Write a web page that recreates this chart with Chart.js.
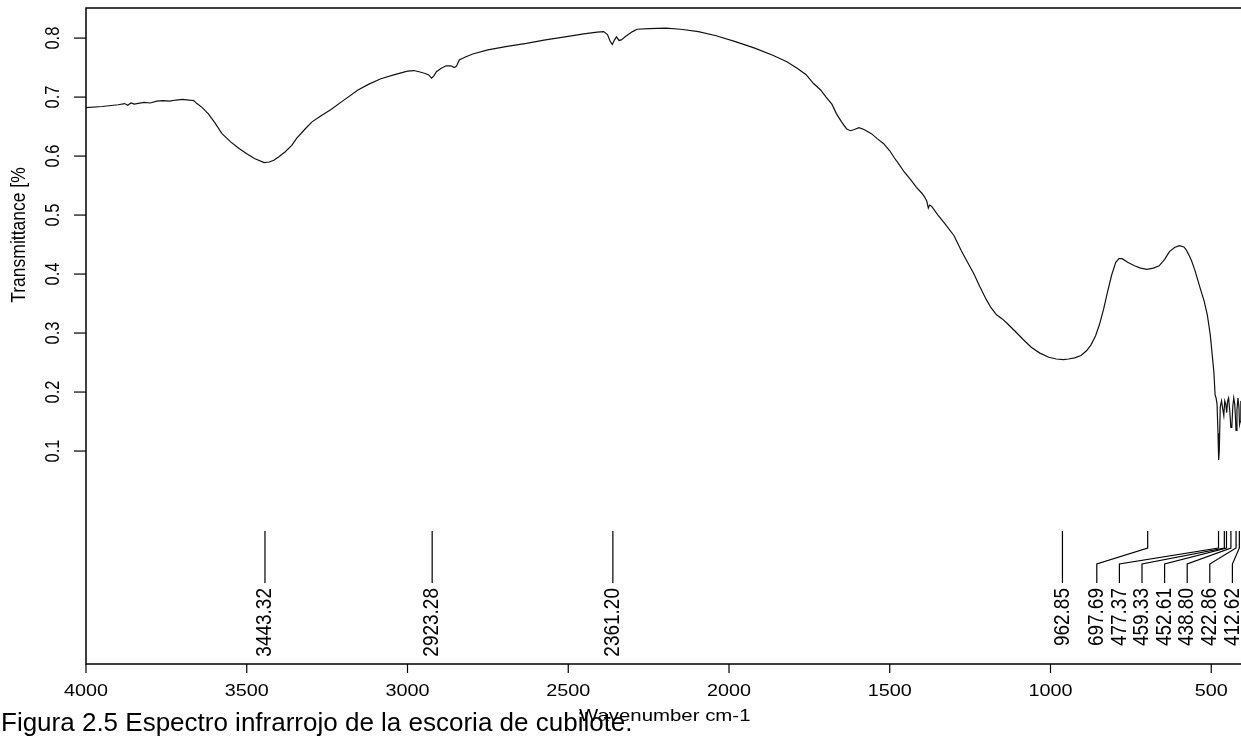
<!DOCTYPE html>
<html><head><meta charset="utf-8">
<script src="https://cdn.jsdelivr.net/npm/chart.js@4.4.1/dist/chart.umd.min.js"></script>
<style>html,body{margin:0;padding:0;overflow:hidden;background:#fff;width:1241px;height:740px}canvas{display:block}</style>
</head><body>
<canvas id="c" width="1250" height="740" style="width:1250px;height:740px"></canvas>
<script>
const wavenumbers = [4000,3950,3900,3880,3870,3860,3850,3820,3800,3780,3760,3740,3720,3700,3680,3665,3655,3640,3620,3600,3577,3550,3524,3500,3476,3446,3430,3416,3400,3381,3360,3345,3320,3297,3270,3238,3200,3154,3120,3083,3040,3000,2980,2964,2945,2935,2925,2918,2910,2895,2880,2865,2855,2848,2839,2820,2797,2750,2690,2630,2571,2510,2452,2410,2390,2378,2370,2363,2356,2350,2342,2335,2321,2300,2286,2250,2197,2150,2095,2040,1980,1920,1864,1820,1788,1760,1737,1715,1698,1680,1666,1650,1634,1622,1610,1596,1580,1557,1540,1519,1500,1487,1470,1455,1435,1417,1400,1391,1385,1380,1376,1370,1350,1328,1300,1277,1258,1238,1220,1200,1185,1168,1150,1136,1110,1085,1060,1033,1005,982,960,944,925,905,888,874,860,848,835,822,810,797,787,777,760,739,720,700,680,662,645,630,614,599,585,579,570,561,550,541,530,522,512,503,500,492,488,485,482,479,477,475,472,468,464,461,458,455,452,449,446,442,439,436,433,430,427,425,423,420,417,414,412,410,408,405,402,400];
const transmittance = [0.682,0.684,0.687,0.689,0.686,0.690,0.688,0.691,0.690,0.693,0.694,0.693,0.695,0.696,0.695,0.694,0.689,0.683,0.672,0.657,0.638,0.624,0.613,0.604,0.596,0.589,0.590,0.593,0.599,0.607,0.618,0.630,0.645,0.658,0.668,0.679,0.694,0.712,0.722,0.731,0.738,0.744,0.745,0.743,0.740,0.738,0.732,0.736,0.743,0.749,0.753,0.753,0.750,0.752,0.763,0.768,0.773,0.780,0.786,0.791,0.797,0.802,0.807,0.810,0.811,0.806,0.795,0.789,0.797,0.802,0.796,0.797,0.803,0.811,0.815,0.816,0.817,0.815,0.811,0.804,0.794,0.783,0.771,0.760,0.749,0.738,0.723,0.712,0.700,0.688,0.672,0.658,0.646,0.643,0.645,0.648,0.645,0.638,0.630,0.621,0.609,0.598,0.585,0.573,0.560,0.547,0.537,0.530,0.524,0.512,0.517,0.515,0.500,0.485,0.465,0.439,0.420,0.400,0.379,0.357,0.343,0.331,0.324,0.317,0.303,0.289,0.276,0.266,0.259,0.256,0.255,0.256,0.258,0.262,0.270,0.280,0.295,0.314,0.340,0.371,0.398,0.420,0.426,0.426,0.420,0.414,0.410,0.408,0.410,0.414,0.425,0.438,0.445,0.448,0.446,0.442,0.433,0.422,0.405,0.388,0.368,0.354,0.330,0.297,0.280,0.235,0.195,0.190,0.180,0.130,0.085,0.100,0.175,0.185,0.170,0.160,0.185,0.180,0.165,0.185,0.190,0.165,0.140,0.140,0.175,0.190,0.180,0.160,0.135,0.170,0.190,0.175,0.145,0.150,0.185,0.170,0.145,0.140];
const xTickValues = [4000,3500,3000,2500,2000,1500,1000,500];
const yTickValues = [0.1,0.2,0.3,0.4,0.5,0.6,0.7,0.8];
const yTickLabels = ['0.1','0.2','0.3','0.4','0.5','0.6','0.7','0.8'];
const peakLabels = ['3443.32','2923.28','2361.20','962.85','697.69','477.37','459.33','452.61','438.80','422.86','412.62'];
const xTitle = 'Wavenumber cm-1';
const yTitle = 'Transmittance [%';
const caption = 'Figura 2.5 Espectro infrarrojo de la escoria de cubilote.';

const FONT = "'Liberation Sans', Arial, Helvetica, sans-serif";
const SX = 1.2;
function sText(ctx, txt, x, y, size, rot, align, baseline) {
  ctx.save(); ctx.translate(x, y); ctx.scale(SX, 1); if (rot) ctx.rotate(rot);
  ctx.font = size + 'px ' + FONT; ctx.fillStyle = '#000';
  ctx.textAlign = align; ctx.textBaseline = baseline; ctx.fillText(txt, 0, 0); ctx.restore();
}

const decor = {
  id: 'decor',
  afterDraw(chart) {
    const ctx = chart.ctx, a = chart.chartArea, xs = chart.scales.x, ys = chart.scales.y;
    ctx.save();
    ctx.strokeStyle = '#000'; ctx.lineWidth = 1.5;
    ctx.strokeRect(a.left, a.top, a.right - a.left, a.bottom - a.top);
    ctx.lineWidth = 1.2;
    xTickValues.forEach(v => {
      const px = xs.getPixelForValue(v);
      ctx.beginPath(); ctx.moveTo(px, a.bottom); ctx.lineTo(px, a.bottom + 9); ctx.stroke();
      sText(ctx, String(v), px, a.bottom + 27, 16.5, 0, 'center', 'middle');
    });
    yTickValues.forEach((v, i) => {
      const py = ys.getPixelForValue(v);
      ctx.beginPath(); ctx.moveTo(a.left - 12, py); ctx.lineTo(a.left, py); ctx.stroke();
      sText(ctx, yTickLabels[i], a.left - 32, py, 16.5, -Math.PI / 2, 'center', 'middle');
    });
    sText(ctx, yTitle, 19, 235, 17.5, -Math.PI / 2, 'center', 'middle');
    sText(ctx, xTitle, (a.left + a.right) / 2, 721, 17, 0, 'center', 'alphabetic');
    // peak annotations
    const pk = peakLabels.map(s => parseFloat(s));
    const px = pk.map(v => xs.getPixelForValue(v));
    const gap = 22.6, bound = a.right - 11;
    const pos = px.slice();
    pos[pos.length - 1] = Math.min(px[px.length - 1], bound);
    for (let i = pos.length - 2; i >= 0; i--) pos[i] = Math.min(px[i], pos[i + 1] - gap);
    const y0 = 531, y1 = 548, y2 = 564, y3 = 583;
    ctx.lineWidth = 1.2;
    pk.forEach((v, i) => {
      ctx.beginPath();
      ctx.moveTo(px[i], y0);
      if (Math.abs(px[i] - pos[i]) > 0.5) { ctx.lineTo(px[i], y1); ctx.lineTo(pos[i], y2); }
      ctx.lineTo(pos[i], y3); ctx.stroke();
      sText(ctx, peakLabels[i], pos[i], y3 + 5, 19, -Math.PI / 2, 'right', 'middle');
    });
    ctx.restore();
    ctx.save();
    ctx.font = '26px ' + FONT; ctx.fillStyle = '#000'; ctx.textAlign = 'left'; ctx.textBaseline = 'alphabetic';
    ctx.fillText(caption, 1, 731);
    ctx.restore();
  }
};

new Chart(document.getElementById('c'), {
  type: 'line',
  data: { datasets: [{ data: wavenumbers.map((w, i) => ({ x: w, y: transmittance[i] })), borderColor: '#111', borderWidth: 1.2, pointRadius: 0, tension: 0, fill: false }] },
  options: {
    responsive: false, animation: false, devicePixelRatio: 1,
    layout: { padding: { left: 86, top: 8, right: 1250 - 1243.4, bottom: 740 - 664 } },
    plugins: { legend: { display: false }, tooltip: { enabled: false } },
    scales: {
      x: { type: 'linear', reverse: true, min: 400, max: 4000, display: false },
      y: { type: 'linear', min: -0.261, max: 0.851, display: false }
    }
  },
  plugins: [decor]
});
</script>
</body></html>
